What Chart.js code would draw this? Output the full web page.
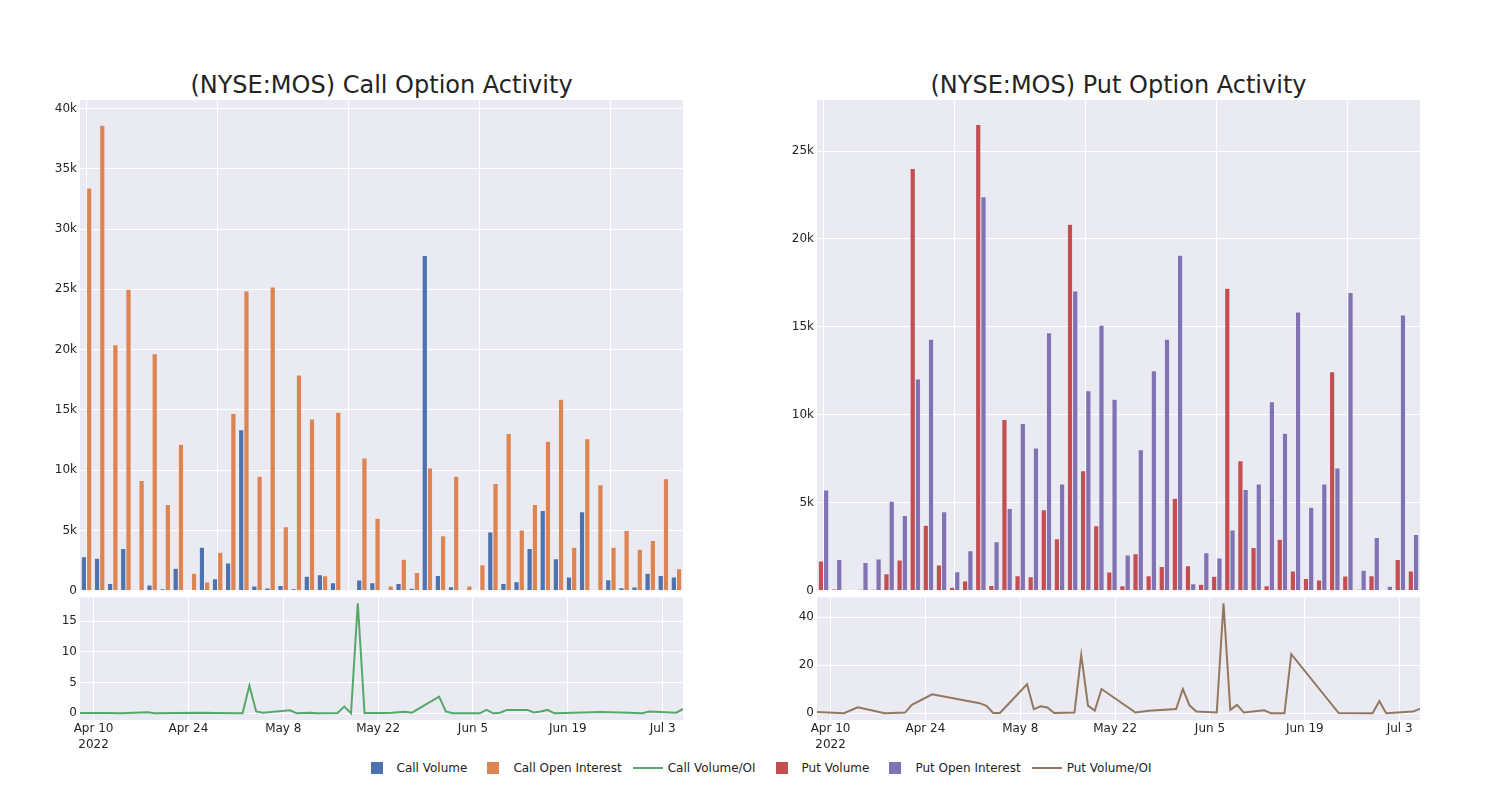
<!DOCTYPE html>
<html>
<head>
<meta charset="utf-8">
<script src="https://cdn.jsdelivr.net/npm/chart.js@4.4.0/dist/chart.umd.min.js"></script>
<style>
  body { margin: 0; background: #fff; font-family: 'DejaVu Sans', sans-serif; color: rgb(36,36,36); }
  #page { position: relative; width: 1500px; height: 800px; overflow: hidden; }
  canvas { position: absolute; }
  .title { position: absolute; top: 71px; width: 603px; text-align: center; font-size: 24px; line-height: 28px; white-space: nowrap; }
  #legend { position: absolute; left: 4px; top: 760px; width: 1500px; display: flex; justify-content: center; font-size: 12px; line-height: 16px; }
  .item { display: flex; align-items: center; margin-right: 6px; }
  .item:last-child { margin-right: 0; }
  .sym { position: relative; width: 40px; height: 16px; }
  .sq { position: absolute; left: 14px; top: 2px; width: 12px; height: 12px; }
  .ln { position: absolute; left: 5px; top: 7px; width: 30px; height: 2px; }
</style>
</head>
<body>
<div id="page">
  <div class="title" style="left:80px">(NYSE:MOS) Call Option Activity</div>
  <div class="title" style="left:817px">(NYSE:MOS) Put Option Activity</div>
  <canvas id="callBars" width="690" height="540" style="left:0;top:80px"></canvas>
  <canvas id="callRatioChart" width="690" height="180" style="left:0;top:580px"></canvas>
  <canvas id="putBars" width="690" height="540" style="left:737px;top:80px"></canvas>
  <canvas id="putRatioChart" width="690" height="180" style="left:737px;top:580px"></canvas>
  <div id="legend">
    <div class="item"><div class="sym"><div class="sq" style="background:rgb(76,114,176)"></div></div>Call Volume</div>
    <div class="item"><div class="sym"><div class="sq" style="background:rgb(221,132,82)"></div></div>Call Open Interest</div>
    <div class="item"><div class="sym"><div class="ln" style="background:rgb(85,168,104)"></div></div>Call Volume/OI</div>
    <div class="item"><div class="sym"><div class="sq" style="background:rgb(196,78,82)"></div></div>Put Volume</div>
    <div class="item"><div class="sym"><div class="sq" style="background:rgb(129,114,179)"></div></div>Put Open Interest</div>
    <div class="item"><div class="sym"><div class="ln" style="background:rgb(147,120,96)"></div></div>Put Volume/OI</div>
  </div>
</div>
<script>
// trading days shown (bar categories + call ratio line)
const callDates = ['2022-04-08','2022-04-12','2022-04-14','2022-04-18','2022-04-19','2022-04-22','2022-04-26','2022-04-28',
  '2022-05-02','2022-05-03','2022-05-04','2022-05-05','2022-05-09','2022-05-10','2022-05-11','2022-05-12','2022-05-13',
  '2022-05-16','2022-05-17','2022-05-18','2022-05-19','2022-05-20','2022-05-23','2022-05-24','2022-05-26','2022-05-27','2022-05-31',
  '2022-06-01','2022-06-02','2022-06-03','2022-06-06','2022-06-07','2022-06-08','2022-06-09','2022-06-10','2022-06-13',
  '2022-06-14','2022-06-15','2022-06-16','2022-06-17','2022-06-24','2022-06-28','2022-06-30','2022-07-01','2022-07-05','2022-07-06'];

const callVolume = [2820, 2690, 600, 3500, 50, 470, 170, 1860, 30, 3600, 1000, 2300, 13350, 400, 220, 440, 170, 1200, 1330, 660,
  60, 880, 660, 50, 600, 200, 27800, 1270, 330, 20, 30, 4860, 600, 750, 3500, 6660, 2650, 1130, 6550, 50, 900, 250, 300, 1440, 1270, 1130];
const callOI = [33400, 38600, 20400, 25000, 9150, 19650, 7160, 12140, 1440, 720, 3180, 14700, 24850, 9500, 25200, 5300, 17900, 14250, 1250, 14800,
  0, 11000, 6000, 390, 2600, 1500, 10170, 4560, 9500, 390, 2150, 8900, 13040, 5030, 7150, 12400, 15880, 3600, 12600, 8780, 3600, 5000, 3430, 4170, 9280, 1820];
const callRatio = [0.05, 0.05, 0, 0.15, 0, 0.05, 0.1, 0.05,
  0, 4.5, 0.3, 0.1, 0.5, 0, 0.05, 0.1, 0, 0.05, 1.1, 0, 17.9, 0.05, 0.05, 0.1, 0.25, 0.1, 2.7,
  0.3, 0, 0, 0, 0.55, 0, 0.1, 0.55, 0.55, 0.15, 0.3, 0.55, 0, 0.2, 0.1, 0,
  0.3, 0.1, 0.7];

const putVolume = [1690, 100, 30, 80, 80, 970, 1740, 24000, 3720, 1460, 200, 550, 26500, 300, 9730, 850, 800, 4600, 2960, 20830,
  6820, 3700, 1060, 280, 2100, 850, 1380, 5250, 1420, 360, 820, 17190, 7390, 2460, 280, 2920, 1120, 700, 610, 12450, 830, 80, 850, 20, 1780, 1120];
const putOI = [5720, 1780, 30, 1600, 1800, 5080, 4270, 12040, 14300, 4490, 1080, 2270, 22400, 2790, 4680, 9500, 8110, 14670, 6070, 17040,
  11370, 15090, 10880, 2030, 8020, 12510, 14290, 19070, 400, 2160, 1860, 3450, 5760, 6070, 10750, 8950, 15850, 4740, 6070, 6980, 16950, 1160, 3030, 250, 15680, 3200];

const putDates = ['2022-04-08','2022-04-12','2022-04-14','2022-04-18','2022-04-21','2022-04-22','2022-04-25',
  '2022-05-02','2022-05-03','2022-05-04','2022-05-05','2022-05-09','2022-05-10','2022-05-11','2022-05-12','2022-05-13',
  '2022-05-16','2022-05-17','2022-05-18','2022-05-19','2022-05-20','2022-05-25','2022-05-27','2022-05-31',
  '2022-06-01','2022-06-02','2022-06-03','2022-06-06','2022-06-07','2022-06-08','2022-06-09','2022-06-10','2022-06-13',
  '2022-06-14','2022-06-16','2022-06-17','2022-06-24','2022-06-29','2022-06-30','2022-07-01','2022-07-05','2022-07-06'];
const putRatio = [0.55, 0, 2.5, 0, 0.3, 3.5, 7.9,
  4.2, 3.1, 0.1, 0.1, 12.1, 1.7, 2.9, 2.4, 0.1,
  0.3, 24.3, 3.2, 1.1, 10.1, 0.3, 1.1, 1.8,
  10.1, 3.2, 0.7, 0.3, 45.8, 1.4, 3.5, 0.3, 1.25,
  0, 0, 24.6, 0.1, 0, 5.1, 0, 0.7, 1.9];

const dateTicks = ['2022-04-10','2022-04-24','2022-05-08','2022-05-22','2022-06-05','2022-06-19','2022-07-03'];
const dateTickLabels = [['Apr 10', '2022'], 'Apr 24', 'May 8', 'May 22', 'Jun 5', 'Jun 19', 'Jul 3'];
const callBarTicks = [0, 5000, 10000, 15000, 20000, 25000, 30000, 35000, 40000];
const putBarTicks = [0, 5000, 10000, 15000, 20000, 25000];
const callRatioTicks = [0, 5, 10, 15];
const putRatioTicks = [0, 20, 40];

Chart.defaults.font.family = 'DejaVu Sans';
Chart.defaults.font.size = 12;
Chart.defaults.color = 'rgb(36,36,36)';

const BG = 'rgb(234,234,242)';
const plotBg = {
  id: 'plotBg',
  beforeDraw(chart) {
    const a = chart.chartArea, c = chart.ctx;
    c.save();
    c.fillStyle = BG;
    c.fillRect(a.left, a.top, a.right - a.left, a.bottom - a.top);
    c.restore();
  }
};

const toDay = s => Date.parse(s + 'T00:00:00Z') / 864e5;
const kFmt = v => v === 0 ? '0' : (v / 1000) + 'k';

function yAxis(min, max, ticks, fmt) {
  return {
    min: min, max: max,
    afterBuildTicks: s => { s.ticks = ticks.map(v => ({ value: v })); },
    afterFit: s => { s.width = 80; },
    ticks: { callback: fmt, padding: 3 },
    grid: { color: '#fff', drawTicks: false },
    border: { display: false }
  };
}

function barChart(id, labels, vol, oi, volColor, oiColor, yMax, yTicks) {
  new Chart(document.getElementById(id), {
    type: 'bar',
    data: {
      labels: labels,
      datasets: [
        { data: vol, backgroundColor: volColor, borderColor: BG, borderWidth: 0.5, categoryPercentage: 0.8, barPercentage: 1 },
        { data: oi, backgroundColor: oiColor, borderColor: BG, borderWidth: 0.5, categoryPercentage: 0.8, barPercentage: 1 }
      ]
    },
    options: {
      responsive: false, animation: false,
      layout: { padding: { top: 20, bottom: 29.3, left: 0, right: 7 } },
      plugins: { legend: { display: false }, tooltip: { enabled: false } },
      scales: {
        x: {
          offset: true,
          ticks: { display: false, autoSkip: false },
          grid: { offset: false, drawTicks: false, color: c => c.index % 10 === 0 ? '#fff' : 'rgba(0,0,0,0)' },
          border: { display: false },
          afterFit: s => { s.height = 0; }
        },
        y: yAxis(0, yMax, yTicks, kFmt)
      }
    },
    plugins: [plotBg]
  });
}

function ratioChart(id, dates, values, color, yMin, yMax, yTicks) {
  new Chart(document.getElementById(id), {
    type: 'line',
    data: {
      datasets: [{
        data: dates.map((d, i) => ({ x: toDay(d), y: values[i] })),
        borderColor: color, borderWidth: 2, pointRadius: 0, tension: 0, fill: false
      }]
    },
    options: {
      responsive: false, animation: false,
      layout: { padding: { top: 17.3, bottom: 0, left: 0, right: 7 } },
      plugins: { legend: { display: false }, tooltip: { enabled: false } },
      scales: {
        x: {
          type: 'linear',
          min: toDay(dates[0]), max: toDay(dates[dates.length - 1]),
          afterBuildTicks: s => { s.ticks = dateTicks.map(d => ({ value: toDay(d) })); },
          afterFit: s => { s.height = 40; },
          ticks: { callback: (v, i) => dateTickLabels[i], autoSkip: false, maxRotation: 0, padding: 1, font: { lineHeight: 1.35 } },
          grid: { color: '#fff', drawTicks: false },
          border: { display: false }
        },
        y: yAxis(yMin, yMax, yTicks, v => String(v))
      }
    },
    plugins: [plotBg]
  });
}

barChart('callBars', callDates, callVolume, callOI, 'rgb(76,114,176)', 'rgb(221,132,82)', 40700, callBarTicks);
barChart('putBars', callDates, putVolume, putOI, 'rgb(196,78,82)', 'rgb(129,114,179)', 27900, putBarTicks);
ratioChart('callRatioChart', callDates, callRatio, 'rgb(85,168,104)', -1.09, 18.86, callRatioTicks);
ratioChart('putRatioChart', putDates, putRatio, 'rgb(147,120,96)', -2.8, 48.3, putRatioTicks);
</script>
</body>
</html>
